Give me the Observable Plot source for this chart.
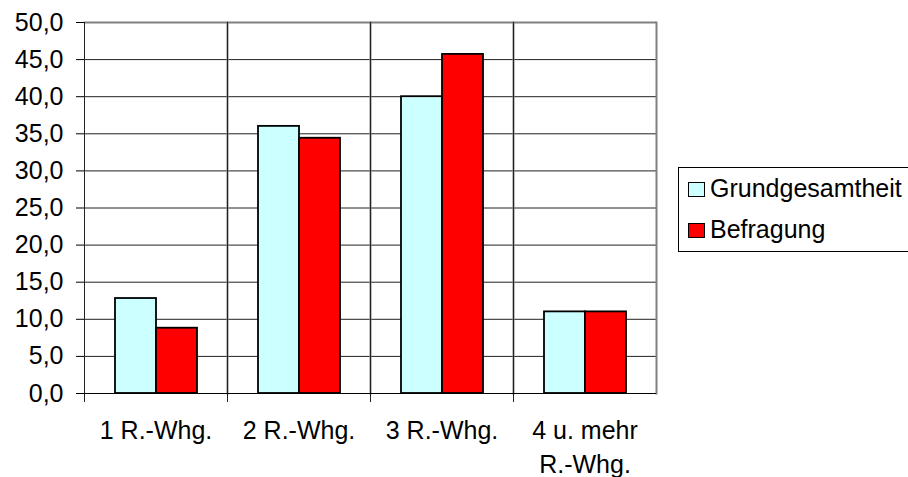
<!DOCTYPE html>
<html><head><meta charset="utf-8">
<script src="https://cdn.jsdelivr.net/npm/d3@7"></script>
<script src="https://cdn.jsdelivr.net/npm/@observablehq/plot@0.6"></script>
<style>
body{margin:0;background:#fff;font-family:"Liberation Sans",Arial,sans-serif;}
#wrap{position:relative;width:908px;height:477px;overflow:hidden;background:#fff;}
#wrap svg{position:absolute;left:0;top:0;}
.legend{position:absolute;left:678px;top:167px;width:260px;height:85px;border:1px solid #000;box-sizing:border-box;background:#fff;}
.item{position:absolute;left:9px;display:flex;align-items:flex-start;font-size:25px;color:#000;line-height:25px;white-space:nowrap;}
.sw{width:17px;height:15px;border:1.5px solid #000;box-sizing:border-box;margin-top:6px;margin-right:5px;flex:none;}
</style></head>
<body><div id="wrap"></div>
<script>
const categories = ["1 R.-Whg.", "2 R.-Whg.", "3 R.-Whg.", "4 u. mehr\nR.-Whg."];
const series = ["Grundgesamtheit", "Befragung"];
const grundgesamtheit = [12.8, 36.0, 40.0, 11.0];
const befragung = [8.8, 34.4, 45.7, 11.0];
const yTicks = [0, 5, 10, 15, 20, 25, 30, 35, 40, 45, 50];
const colors = ["#CCFFFF", "#FF0000"];

const data = categories.flatMap((c, i) => [
  {cat: c, series: series[0], value: grundgesamtheit[i]},
  {cat: c, series: series[1], value: befragung[i]}
]);

const chart = Plot.plot({
  width: 908, height: 477,
  marginLeft: 83, marginRight: 251, marginTop: 22, marginBottom: 84,
  style: {fontFamily: "'Liberation Sans', Arial, sans-serif", fontSize: "25px", color: "#000", background: "transparent", overflow: "visible"},
  fx: {domain: categories, padding: 0, label: null},
  x: {domain: series, paddingInner: 0, paddingOuter: 0.71, axis: null},
  y: {domain: [0, 50], label: null},
  color: {domain: series, range: colors},
  marks: [
    Plot.gridY(yTicks, {stroke: "#222", strokeOpacity: 1}),
    Plot.barY(data, {fx: "cat", x: "series", y: "value", fill: "series", stroke: "#000", strokeWidth: 1.8}),
    Plot.ruleY([50], {stroke: "#808080", strokeWidth: 2}),
    Plot.frame({anchor: "right", stroke: "#808080", strokeWidth: 2}),
    Plot.frame({anchor: "left", stroke: "#222", insetBottom: -8}),
    Plot.ruleY([0], {stroke: "#000"}),
    Plot.axisY(yTicks, {anchor: "left", tickSize: 8, tickPadding: 13, fontSize: 25,
      tickFormat: d => d.toFixed(1).replace(".", ",")}),
    Plot.axisFx({anchor: "bottom", tickSize: 0, tickPadding: 21, lineHeight: 1.36, fontSize: 25, label: null})
  ]
});

const wrap = document.getElementById("wrap");
wrap.appendChild(chart);

const legend = document.createElement("div");
legend.className = "legend";
series.forEach((s, i) => {
  const item = document.createElement("div");
  item.className = "item";
  item.style.top = (i === 0 ? 8 : 49) + "px";
  const sw = document.createElement("div");
  sw.className = "sw";
  sw.style.background = colors[i];
  const t = document.createElement("span");
  t.textContent = s;
  item.appendChild(sw);
  item.appendChild(t);
  legend.appendChild(item);
});
wrap.appendChild(legend);
</script>
</body></html>
